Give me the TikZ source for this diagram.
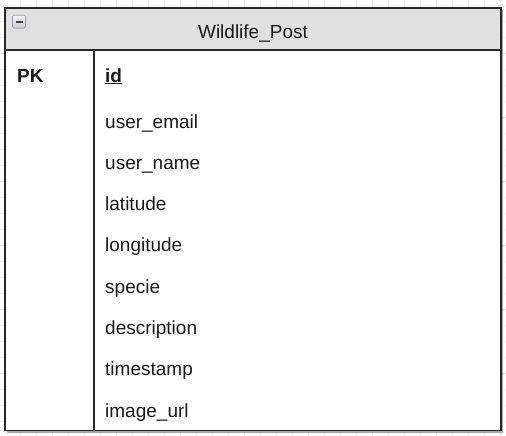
\documentclass[tikz,border=0pt]{standalone}
\usepackage{fontspec}
\setmainfont{Liberation Sans}
\begin{document}
\begin{tikzpicture}[x=1pt,y=-1pt,
  field/.style={anchor=base west,inner sep=0pt,font=\fontsize{19}{23}\selectfont,text=black!90},
  keyfield/.style={field,font=\fontsize{19}{23}\selectfont\bfseries},
  frame/.style={draw=black!85,line width=1.6pt},
  minorgrid/.style={draw=black!5,line width=0.6pt},
  majorgrid/.style={draw=black!10,line width=0.6pt}]
\useasboundingbox (0,0) rectangle (506,436);
\fill[white] (0,0) rectangle (506,436);
% background grid
\foreach \x in {4,20,...,506} \draw[minorgrid] (\x,0) -- (\x,436);
\foreach \y in {5,21,...,436} \draw[minorgrid] (0,\y) -- (506,\y);
\foreach \x in {52,116,...,506} \draw[majorgrid] (\x,0) -- (\x,436);
\foreach \y in {53,117,...,436} \draw[majorgrid] (0,\y) -- (506,\y);
% table outline with soft shadow
\fill[black!35] (7,10.5) rectangle (503,432.5);
\fill[white] (5,8) rectangle (501,430.5);
\fill[black!12] (5,8) rectangle (501,50);
\draw[frame] (5,50) -- (501,50);
\draw[frame] (94,50) -- (94,430.5);
\draw[frame] (5,8) rectangle (501,430.5);
% collapse icon
\shade[top color=blue!4!black!4,bottom color=blue!15!black!22,rounded corners=1.5pt,draw=blue!20!black!40,line width=0.6pt]
  (12.5,15.3) rectangle (25.5,28.3);
\draw[black!75,line width=1.8pt] (15.5,21.8) -- (22.5,21.8);
% title
\node[field,anchor=base] (title) at (253,39) {Wildlife\_Post};
% key column
\node[keyfield] (pk) at (17,82) {PK};
\node[keyfield] (id) at (105,82) {\underline{id}};
% attribute rows
\node[field] (email) at (105,128) {user\_email};
\node[field] (uname) at (105,169.3) {user\_name};
\node[field] (lat) at (105,210.6) {latitude};
\node[field] (lon) at (105,251.9) {longitude};
\node[field] (specie) at (105,293.2) {specie};
\node[field] (desc) at (105,334.5) {description};
\node[field] (ts) at (105,375.8) {timestamp};
\node[field] (img) at (105,417.1) {image\_url};
\end{tikzpicture}
\end{document}
